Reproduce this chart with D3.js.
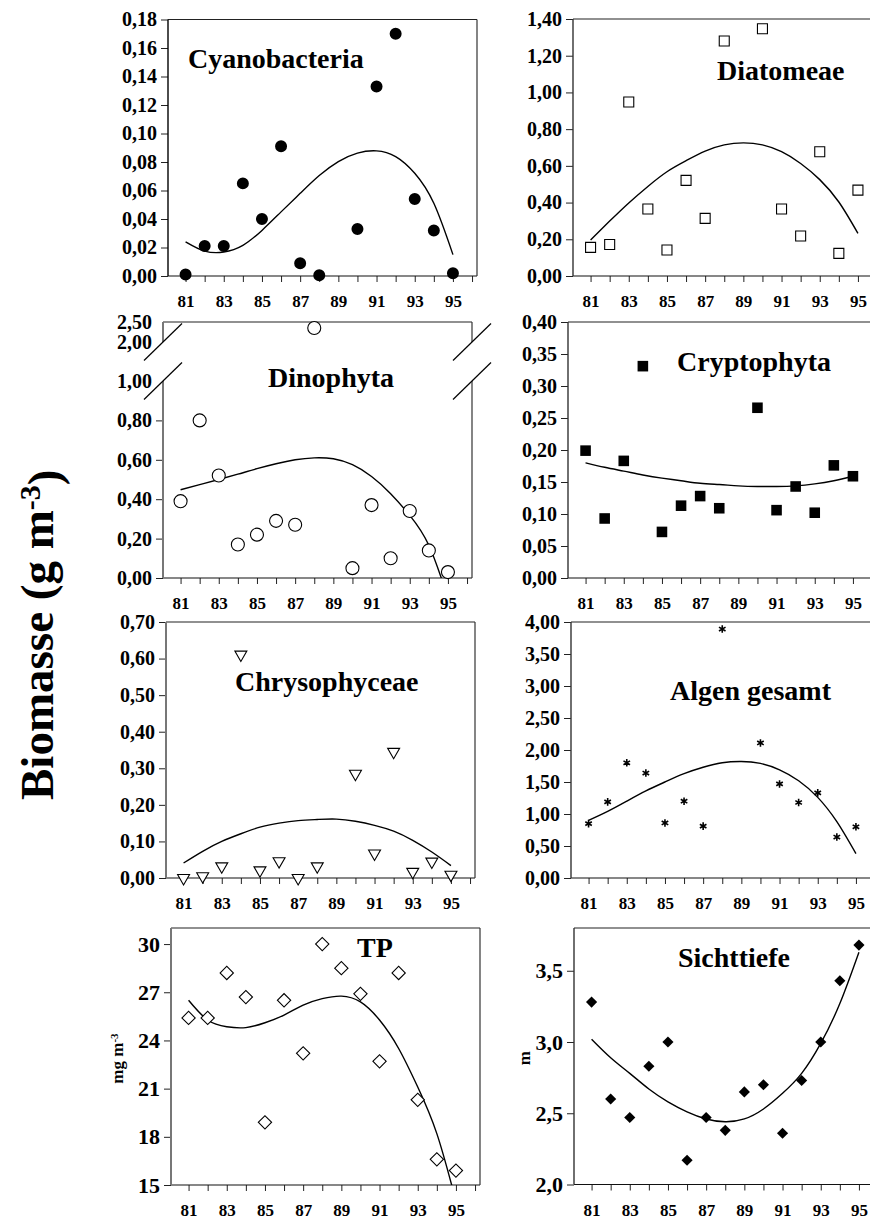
<!DOCTYPE html>
<html>
<head>
<meta charset="utf-8">
<script src="https://cdn.jsdelivr.net/npm/d3@7"></script>
<style>
  body { margin: 0; background: #fff; }
  svg text { font-family: "Liberation Serif", "Times New Roman", serif; font-weight: bold; fill: #000; }
</style>
</head>
<body>
<div id="container"></div>
<script>
// years 1981..1995 (shown as two digits), 89 missing for most algae groups
const years = [81, 82, 83, 84, 85, 86, 87, 88, 89, 90, 91, 92, 93, 94, 95];
const tickYears = [81, 82, 83, 84, 85, 86, 87, 88, 89, 90, 91, 92, 93, 94, 95, 96];

const cyanoValues = [0.001, 0.021, 0.021, 0.065, 0.040, 0.091, 0.009, 0.0005, null, 0.033, 0.133, 0.170, 0.054, 0.032, 0.002];
const cyanoTrend  = [0.024, 0.0175, 0.0168, 0.0215, 0.032, 0.045, 0.058, 0.0705, 0.0803, 0.0862, 0.0878, 0.0838, 0.0721, 0.051, 0.015];
const cyanoTicks  = [0, 0.02, 0.04, 0.06, 0.08, 0.10, 0.12, 0.14, 0.16, 0.18];

const diatomValues = [0.156, 0.172, 0.948, 0.365, 0.142, 0.521, 0.314, 1.28, null, 1.347, 0.365, 0.218, 0.677, 0.123, 0.468];
const diatomTrend  = [0.196, 0.299, 0.398, 0.488, 0.568, 0.628, 0.680, 0.714, 0.725, 0.714, 0.677, 0.613, 0.525, 0.403, 0.232];
const diatomTicks  = [0, 0.2, 0.4, 0.6, 0.8, 1.0, 1.2, 1.4];

const dinoValues = [0.39, 0.80, 0.52, 0.17, 0.22, 0.29, 0.27, 2.35, null, 0.05, 0.37, 0.10, 0.34, 0.14, 0.03];
const dinoTrend  = [0.448, 0.474, 0.50, 0.527, 0.555, 0.58, 0.60, 0.61, 0.605, 0.575, 0.515, 0.428, 0.318, 0.166, -0.10];
const dinoTicks  = [0, 0.2, 0.4, 0.6, 0.8, 1.0, 2.0, 2.5];

const cryptoValues = [0.199, 0.093, 0.183, 0.331, 0.072, 0.113, 0.128, 0.109, null, 0.266, 0.106, 0.143, 0.102, 0.176, 0.159];
const cryptoTrend  = [0.180, 0.173, 0.167, 0.161, 0.156, 0.152, 0.148, 0.146, 0.144, 0.143, 0.143, 0.144, 0.147, 0.152, 0.159];
const cryptoTicks  = [0, 0.05, 0.10, 0.15, 0.20, 0.25, 0.30, 0.35, 0.40];

const chrysoValues = [0.0, 0.005, 0.032, 0.611, 0.021, 0.046, 0.0, 0.032, null, 0.285, 0.067, 0.345, 0.017, 0.045, 0.009];
const chrysoTrend  = [0.041, 0.073, 0.100, 0.121, 0.139, 0.150, 0.157, 0.160, 0.161, 0.155, 0.144, 0.128, 0.103, 0.071, 0.034];
const chrysoTicks  = [0, 0.1, 0.2, 0.3, 0.4, 0.5, 0.6, 0.7];

const algenValues = [0.85, 1.19, 1.80, 1.64, 0.86, 1.20, 0.81, 3.89, null, 2.11, 1.47, 1.18, 1.33, 0.64, 0.80];
const algenTrend  = [0.90, 1.04, 1.20, 1.36, 1.50, 1.63, 1.73, 1.80, 1.82, 1.79, 1.69, 1.52, 1.26, 0.88, 0.38];
const algenTicks  = [0, 0.5, 1.0, 1.5, 2.0, 2.5, 3.0, 3.5, 4.0];

const tpValues = [25.4, 25.4, 28.2, 26.7, 18.9, 26.5, 23.2, 30.0, 28.5, 26.9, 22.7, 28.2, 20.3, 16.6, 15.9];
const tpTrend  = [26.5, 25.27, 24.85, 24.8, 25.1, 25.58, 26.2, 26.6, 26.76, 26.4, 25.27, 23.5, 21.1, 18.2, 14.0];
const tpTicks  = [15, 18, 21, 24, 27, 30];

const sichtValues = [3.28, 2.60, 2.47, 2.83, 3.00, 2.17, 2.47, 2.38, 2.65, 2.70, 2.36, 2.73, 3.00, 3.43, 3.68];
const sichtTrend  = [3.02, 2.89, 2.78, 2.67, 2.58, 2.51, 2.46, 2.44, 2.46, 2.53, 2.64, 2.78, 2.99, 3.27, 3.63];
const sichtTicks  = [2.0, 2.5, 3.0, 3.5];

const width = 870;
const height = 1219;
const plotW = 309;
const serif = '"Liberation Serif", "Times New Roman", serif';

const de = d3.formatLocale({ decimal: ",", thousands: ".", grouping: [3], currency: ["", ""] });
const f2 = de.format(".2f");
const f1 = de.format(".1f");
const f0 = de.format("d");

const markers = {
    dot:      { type: d3.symbolCircle, size: 113, fill: "#000", stroke: "none", rot: 0 },
    square:   { type: d3.symbolSquare, size: 100, fill: "#fff", stroke: "#000", rot: 0 },
    ring:     { type: d3.symbolCircle, size: 133, fill: "#fff", stroke: "#000", rot: 0 },
    block:    { type: d3.symbolSquare, size: 112, fill: "#000", stroke: "none", rot: 0 },
    triangle: { type: d3.symbolTriangle, size: 62, fill: "#fff", stroke: "#000", rot: 180 },
    star:     { type: d3.symbolAsterisk, size: 40, fill: "none", stroke: "#000", rot: 0 },
    diamond:  { type: d3.symbolSquare, size: 88, fill: "#fff", stroke: "#000", rot: 45 },
    gem:      { type: d3.symbolSquare, size: 62, fill: "#000", stroke: "none", rot: 45 }
};

const panels = [
    { title: "Cyanobacteria", values: cyanoValues, trend: cyanoTrend, ticks: cyanoTicks, domain: [0, 0.18], fmt: f2,
      marker: "dot", left: 168, top: 19.5, h: 256.5, tx: 20, ty: 48.5, axisColor: "#000" },
    { title: "Diatomeae", values: diatomValues, trend: diatomTrend, ticks: diatomTicks, domain: [0, 1.4], fmt: f2,
      marker: "square", left: 573, top: 19, h: 257, tx: 144, ty: 61, axisColor: "#333" },
    { title: "Dinophyta", values: dinoValues, trend: dinoTrend, ticks: dinoTicks, domain: [0, 1.0, 2.0, 2.5], fmt: f2,
      marker: "ring", left: 163, top: 322, h: 256, tx: 105, ty: 65, axisColor: "#777", broken: true },
    { title: "Cryptophyta", values: cryptoValues, trend: cryptoTrend, ticks: cryptoTicks, domain: [0, 0.4], fmt: f2,
      marker: "block", left: 568, top: 322, h: 256, tx: 109, ty: 49, axisColor: "#333" },
    { title: "Chrysophyceae", values: chrysoValues, trend: chrysoTrend, ticks: chrysoTicks, domain: [0, 0.7], fmt: f2,
      marker: "triangle", left: 166, top: 622, h: 256, tx: 69, ty: 69, axisColor: "#777" },
    { title: "Algen gesamt", values: algenValues, trend: algenTrend, ticks: algenTicks, domain: [0, 4.0], fmt: f2,
      marker: "star", left: 571, top: 622, h: 256, tx: 99, ty: 78, axisColor: "#333" },
    { title: "TP", values: tpValues, trend: tpTrend, ticks: tpTicks, domain: [15, 31], fmt: f0,
      marker: "diamond", left: 171, top: 928, h: 257, tx: 186, ty: 29, axisColor: "#777", unit: "mg m", unitSup: "-3", ux: -48 },
    { title: "Sichttiefe", values: sichtValues, trend: sichtTrend, ticks: sichtTicks, domain: [2.0, 3.8], fmt: f1,
      marker: "gem", left: 574, top: 928, h: 256.5, tx: 104, ty: 39, axisColor: "#333", unit: "m", ux: -44 }
];

const svg = d3.select("#container").append("svg")
    .attr("width", width)
    .attr("height", height);

svg.append("rect").attr("width", width).attr("height", height).attr("fill", "#fff");

const defs = svg.append("defs");

panels.forEach((p, i) => {
    const h = p.h;
    const g = svg.append("g").attr("transform", `translate(${p.left},${p.top})`);

    const x = d3.scaleLinear().domain([80.08, 96.26]).range([0, plotW]);
    const y = d3.scaleLinear().domain(p.domain)
        .range(p.broken ? [h, h - 197, 20, 0] : [h, 0]);

    defs.append("clipPath").attr("id", `clip${i}`)
        .append("rect").attr("x", 0).attr("y", 0).attr("width", plotW).attr("height", h);

    // y axis
    const yAxis = g.append("g")
        .call(d3.axisLeft(y).tickValues(p.ticks).tickSize(7).tickPadding(4).tickFormat(p.fmt))
        .attr("font-family", serif);
    yAxis.select(".domain").remove();
    yAxis.selectAll(".tick text")
        .style("font-family", serif)
        .style("font-size", p.unit ? "22px" : "20px");
    yAxis.selectAll(".tick line").attr("stroke", "#222");
    if (p.broken) {
        yAxis.selectAll(".tick").filter(d => d >= 1).select("line").remove();
    }

    // x axis
    const xAxis = g.append("g")
        .attr("transform", `translate(0,${h})`)
        .call(d3.axisBottom(x).tickValues(tickYears).tickSize(6).tickPadding(13)
            .tickFormat(d => (d % 2 === 1 && d < 96) ? d : ""))
        .attr("font-family", serif);
    xAxis.select(".domain").remove();
    xAxis.selectAll(".tick text")
        .style("font-family", serif)
        .style("font-size", "17px");
    xAxis.selectAll(".tick line").attr("stroke", "#222");

    // frame
    const frame = g.append("g").attr("fill", "none").attr("stroke-width", 1.2);
    frame.append("line").attr("x1", 0).attr("x2", plotW).attr("y1", h).attr("y2", h).attr("stroke", "#111");
    frame.append("line").attr("x1", 0).attr("x2", plotW).attr("y1", 0).attr("y2", 0).attr("stroke", "#222");
    if (p.broken) {
        const yb1 = y(1.0), yb2 = y(2.0);
        [0, plotW].forEach(xx => {
            frame.append("line").attr("x1", xx).attr("x2", xx).attr("y1", h).attr("y2", yb1)
                .attr("stroke", xx === 0 ? p.axisColor : "#333").attr("stroke-width", xx === 0 ? 2 : 1.2);
            frame.append("line").attr("x1", xx).attr("x2", xx).attr("y1", yb2).attr("y2", 0)
                .attr("stroke", xx === 0 ? p.axisColor : "#333").attr("stroke-width", xx === 0 ? 2 : 1.2);
            [yb1, yb2].forEach(yy => {
                frame.append("line")
                    .attr("x1", xx - 19).attr("y1", yy + 18.5)
                    .attr("x2", xx + 19).attr("y2", yy - 18.5)
                    .attr("stroke", "#000").attr("stroke-width", 1.2);
            });
        });
    } else {
        frame.append("line").attr("x1", 0).attr("x2", 0).attr("y1", 0).attr("y2", h)
            .attr("stroke", p.axisColor).attr("stroke-width", p.axisColor === "#777" ? 2 : 1.4);
        frame.append("line").attr("x1", plotW).attr("x2", plotW).attr("y1", 0).attr("y2", h).attr("stroke", "#333");
    }

    // fitted trend
    const line = d3.line()
        .x((d, j) => x(years[j]))
        .y(d => y(d))
        .curve(d3.curveNatural);
    g.append("path")
        .datum(p.trend)
        .attr("clip-path", `url(#clip${i})`)
        .attr("fill", "none")
        .attr("stroke", "#000")
        .attr("stroke-width", 1.4)
        .attr("d", line);

    // yearly values
    const m = markers[p.marker];
    const pts = years.map((yr, j) => ({ yr, v: p.values[j] })).filter(d => d.v !== null);
    g.append("g").selectAll("path")
        .data(pts)
        .join("path")
        .attr("transform", d => `translate(${x(d.yr)},${y(d.v)}) rotate(${m.rot})`)
        .attr("d", d3.symbol().type(m.type).size(m.size))
        .attr("fill", m.fill)
        .attr("stroke", m.stroke)
        .attr("stroke-width", p.marker === "star" ? 1.6 : 1.1);

    // title
    g.append("text")
        .attr("x", p.tx)
        .attr("y", p.ty)
        .style("font-size", "28px")
        .text(p.title);

    // unit label
    if (p.unit) {
        const t = g.append("text")
            .attr("transform", `translate(${p.ux},${h / 2 + 2}) rotate(-90)`)
            .attr("text-anchor", "middle")
            .style("font-size", "17px")
            .text(p.unit);
        if (p.unitSup) {
            t.append("tspan").attr("dy", "-0.45em").style("font-size", "11px").text(p.unitSup);
        }
    }
});

// shared y label
const ylab = svg.append("text")
    .attr("transform", "translate(53,800) rotate(-90)")
    .attr("text-anchor", "start")
    .style("font-size", "47px")
    .text("Biomasse (g m");
ylab.append("tspan").attr("dy", "-0.42em").style("font-size", "30px").text("-3");
ylab.append("tspan").attr("dy", "0.42em").text(")");
</script>
</body>
</html>
